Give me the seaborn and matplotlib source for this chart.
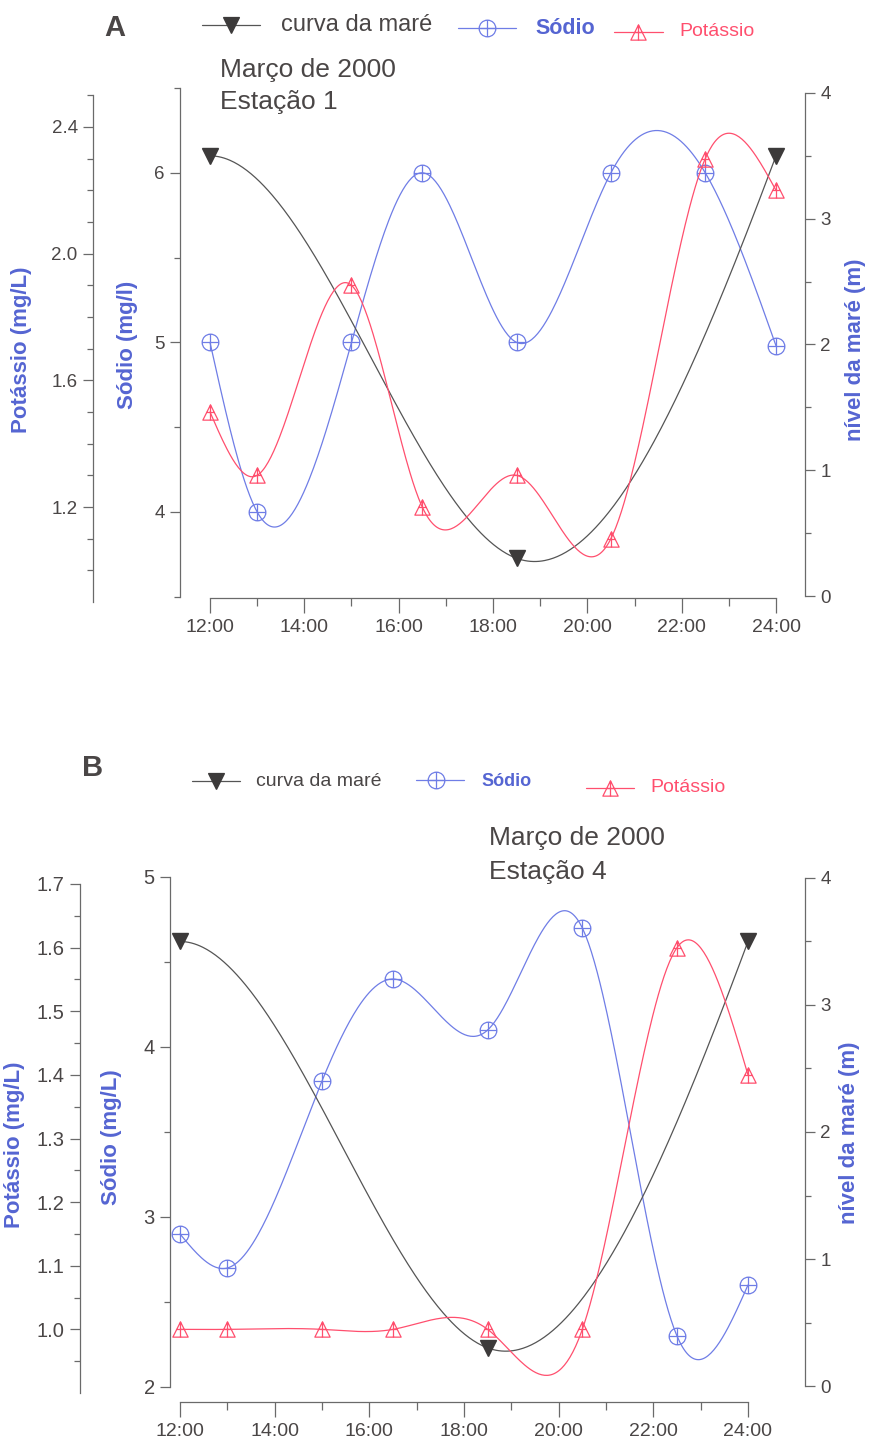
import numpy as np
import pandas as pd
import matplotlib
matplotlib.use("Agg")
import matplotlib.pyplot as plt
import seaborn as sns
from matplotlib.lines import Line2D
from matplotlib.path import Path
from matplotlib.ticker import FixedLocator, FuncFormatter

sns.set_theme(style="ticks")
plt.rcParams["font.family"] = ["Liberation Sans", "DejaVu Sans"]

# ---------------- data ----------------
hours = [12, 13, 15, 16.5, 18.5, 20.5, 22.5, 24]
tide_hours = [12, 18.5, 24]

tide_A = [3.5, 0.3, 3.5]
sodio_A = [5.0, 4.0, 5.0, 6.0, 5.0, 6.0, 6.0, 4.98]
potassio_A = [1.5, 1.3, 1.9, 1.2, 1.3, 1.1, 2.3, 2.2]

tide_B = [3.5, 0.3, 3.5]
sodio_B = [2.9, 2.7, 3.8, 4.4, 4.1, 4.7, 2.3, 2.6]
potassio_B = [1.0, 1.0, 1.0, 1.0, 1.0, 1.0, 1.6, 1.4]

x_ticks = [12, 14, 16, 18, 20, 22, 24]
x_minor = [13, 15, 17, 19, 21, 23]
x_tick_labels = ["12:00", "14:00", "16:00", "18:00", "20:00", "22:00", "24:00"]

# ---------------- styling ----------------
W, H = 874, 1446
C_BLUE_LINE = "#6f7de6"
C_BLUE_TXT = "#5565d2"
C_RED = "#ff4f6e"
C_TIDE = "#555555"
C_TIDE_MK = "#3c3a3a"
C_AX = "#6a6a6a"
C_TXT = "#4a4646"

circle_plus = Path.make_compound_path(
    Path.unit_circle(),
    Path([(-1, 0), (1, 0)], [Path.MOVETO, Path.LINETO]),
    Path([(0, -1), (0, 1)], [Path.MOVETO, Path.LINETO]),
)
tri_cross = Path(
    [(0, 1), (-1, -1), (1, -1), (0, 1), (0, 1), (0, -1), (-0.5, 0), (0.5, 0)],
    [Path.MOVETO, Path.LINETO, Path.LINETO, Path.CLOSEPOLY,
     Path.MOVETO, Path.LINETO, Path.MOVETO, Path.LINETO],
)


def cubic_spline(x, y, n=400, slopes=None):
    """Cubic spline through the points; natural ends, or clamped end slopes."""
    x = np.asarray(x, float)
    y = np.asarray(y, float)
    m = len(x)
    h = np.diff(x)
    A = np.zeros((m, m))
    b = np.zeros(m)
    if slopes is None:
        A[0, 0] = 1
        A[-1, -1] = 1
    else:
        s0, s1 = slopes
        A[0, 0], A[0, 1] = 2 * h[0], h[0]
        b[0] = 6 * ((y[1] - y[0]) / h[0] - s0)
        A[-1, -2], A[-1, -1] = h[-1], 2 * h[-1]
        b[-1] = 6 * (s1 - (y[-1] - y[-2]) / h[-1])
    for i in range(1, m - 1):
        A[i, i - 1] = h[i - 1]
        A[i, i] = 2 * (h[i - 1] + h[i])
        A[i, i + 1] = h[i]
        b[i] = 6 * ((y[i + 1] - y[i]) / h[i] - (y[i] - y[i - 1]) / h[i - 1])
    M = np.linalg.solve(A, b)
    xs = np.linspace(x[0], x[-1], n)
    idx = np.clip(np.searchsorted(x, xs) - 1, 0, m - 2)
    x0, x1 = x[idx], x[idx + 1]
    hh = x1 - x0
    t0 = x1 - xs
    t1 = xs - x0
    ys = (M[idx] * t0 ** 3 / (6 * hh) + M[idx + 1] * t1 ** 3 / (6 * hh)
          + (y[idx] / hh - M[idx] * hh / 6) * t0
          + (y[idx + 1] / hh - M[idx + 1] * hh / 6) * t1)
    return xs, ys


def fxp(px):
    return px / W


def fyp(py):
    return 1 - py / H


def style_spine_axis(a, side, lsize):
    for s in ["top", "bottom", "left", "right"]:
        a.spines[s].set_visible(False)
    a.spines[side].set_visible(True)
    a.spines[side].set_color(C_AX)
    a.spines[side].set_linewidth(0.9)
    a.tick_params(axis="y", which="both", color=C_AX, labelcolor=C_TXT,
                  labelsize=lsize, direction="out", width=0.9)
    a.tick_params(axis="y", which="major", length=7, pad=4)
    a.tick_params(axis="y", which="minor", length=4)
    a.grid(False)


def make_panel(box, xlim, sod_lim, sod_bounds, sod_major, sod_minor,
               tide_lim, pot_lim, pot_bounds, pot_major, pot_minor,
               pot_out_px, x_out_px, ylab_size, sod, pot, tide):
    left, top, right, bottom = box
    ax = fig.add_axes([fxp(left), fyp(bottom), fxp(right - left), (bottom - top) / H])
    ax.patch.set_alpha(0)
    axT = ax.twinx()
    axK = ax.twinx()
    axK.yaxis.tick_left()

    # sodium axis (main, left)
    style_spine_axis(ax, "left", ylab_size)
    ax.spines["bottom"].set_visible(True)
    ax.spines["bottom"].set_color(C_AX)
    ax.spines["bottom"].set_linewidth(0.9)
    ax.spines["bottom"].set_position(("outward", x_out_px * 0.72))
    ax.spines["bottom"].set_bounds(12, 24)
    ax.set_ylim(*sod_lim)
    ax.spines["left"].set_bounds(*sod_bounds)
    ax.yaxis.set_major_locator(FixedLocator(sod_major))
    ax.yaxis.set_minor_locator(FixedLocator(sod_minor))
    ax.yaxis.set_major_formatter(FuncFormatter(lambda v, p: f"{v:g}"))
    ax.xaxis.set_major_locator(FixedLocator(x_ticks))
    ax.xaxis.set_major_formatter(FuncFormatter(
        lambda v, p: x_tick_labels[x_ticks.index(int(round(v)))]))
    ax.xaxis.set_minor_locator(FixedLocator(x_minor))
    ax.tick_params(axis="x", which="both", color=C_AX, labelcolor=C_TXT,
                   labelsize=14, direction="out", width=0.9)
    ax.tick_params(axis="x", which="major", length=11, pad=4)
    ax.tick_params(axis="x", which="minor", length=6)

    # tide axis (right)
    style_spine_axis(axT, "right", 13.5)
    axT.set_ylim(*tide_lim)
    axT.spines["right"].set_bounds(0, 4)
    axT.yaxis.set_major_locator(FixedLocator([0, 1, 2, 3, 4]))
    axT.yaxis.set_minor_locator(FixedLocator([0.5, 1.5, 2.5, 3.5]))
    axT.yaxis.set_major_formatter(FuncFormatter(lambda v, p: f"{v:g}"))

    # potassium axis (offset left)
    style_spine_axis(axK, "left", ylab_size)
    axK.spines["left"].set_position(("outward", pot_out_px * 0.72))
    axK.set_ylim(*pot_lim)
    axK.spines["left"].set_bounds(*pot_bounds)
    axK.yaxis.set_major_locator(FixedLocator(pot_major))
    axK.yaxis.set_minor_locator(FixedLocator(pot_minor))
    axK.yaxis.set_major_formatter(FuncFormatter(lambda v, p: f"{v:.1f}"))

    # curves
    xs, ys = cubic_spline(hours, sod)
    sns.lineplot(x=xs, y=ys, ax=ax, color=C_BLUE_LINE, lw=0.9, sort=False,
                 estimator=None, legend=False)
    ax.plot(hours, sod, linestyle="none", marker=circle_plus, ms=12,
            mfc="none", mec=C_BLUE_LINE, mew=0.9)

    xs, ys = cubic_spline(hours, pot)
    sns.lineplot(x=xs, y=ys, ax=axK, color=C_RED, lw=0.9, sort=False,
                 estimator=None, legend=False)
    axK.plot(hours, pot, linestyle="none", marker=tri_cross, ms=11,
             mfc="none", mec=C_RED, mew=0.9)

    xs, ys = cubic_spline(tide_hours, tide, slopes=(0.0, 1.0))
    sns.lineplot(x=xs, y=ys, ax=axT, color=C_TIDE, lw=0.9, sort=False,
                 estimator=None, legend=False)
    axT.plot(tide_hours, tide, linestyle="none", marker="v", ms=11,
             mfc=C_TIDE_MK, mec=C_TIDE_MK)
    for a in (ax, axT, axK):
        a.set_xlim(*xlim)
        a.set_xlabel("")
        a.set_ylabel("")
    return ax


def legend_item(x0, x1, xm, y, marker, color, ms, filled, mcolor=None):
    mcolor = mcolor or color
    fig.add_artist(Line2D([fxp(x0), fxp(x1)], [fyp(y), fyp(y)],
                          transform=fig.transFigure, color=color, lw=0.9))
    fig.add_artist(Line2D([fxp(xm)], [fyp(y)], transform=fig.transFigure,
                          linestyle="none", marker=marker, ms=ms,
                          mfc=mcolor if filled else "none", mec=mcolor, mew=0.9))


def ftext(x, y, s, **kw):
    fig.text(fxp(x), fyp(y), s, **kw)


fig = plt.figure(figsize=(W / 100, H / 100), dpi=100)

# ---------------- Panel A ----------------
make_panel(box=(180, 88, 805, 598),
           xlim=(12 - 30 / 47.17, 24 + 29 / 47.17),
           sod_lim=(4 - 86 / 169.5, 6.5), sod_bounds=(3.5, 6.5),
           sod_major=[4, 5, 6], sod_minor=[3.5, 4.5, 5.5, 6.5],
           tide_lim=(-2 / 126.75, 4 + 5 / 126.75),
           pot_lim=(1.2 - 91 / 316.7, 2.4 + 39 / 316.7), pot_bounds=(0.9, 2.5),
           pot_major=[1.2, 1.6, 2.0, 2.4],
           pot_minor=[0.9, 1.0, 1.1, 1.3, 1.4, 1.5, 1.7, 1.8, 1.9, 2.1, 2.2, 2.3, 2.5],
           pot_out_px=87, x_out_px=0, ylab_size=13.5,
           sod=sodio_A, pot=potassio_A, tide=tide_A)

ftext(115, 28, "A", fontsize=21, fontweight="bold", color=C_TXT, ha="center", va="center")
legend_item(202, 260, 231, 25, "v", C_TIDE, 11, True, C_TIDE_MK)
ftext(281, 25, "curva da maré", fontsize=17, color=C_TXT, va="center")
legend_item(458, 516, 487, 28, circle_plus, C_BLUE_LINE, 12, False)
ftext(535, 29, "Sódio", fontsize=15.5, fontweight="bold", color=C_BLUE_TXT, va="center")
legend_item(614, 663, 638, 32, tri_cross, C_RED, 11, False)
ftext(679, 32, "Potássio", fontsize=14, color=C_RED, va="center")
ftext(220, 70, "Março de 2000", fontsize=19, color=C_TXT, va="center")
ftext(220, 102, "Estação 1", fontsize=19, color=C_TXT, va="center")
ftext(22, 350, "Potássio (mg/L)", fontsize=16, fontweight="bold", color=C_BLUE_TXT,
      rotation=90, ha="center", va="center")
ftext(128, 345, "Sódio (mg/l)", fontsize=16, fontweight="bold", color=C_BLUE_TXT,
      rotation=90, ha="center", va="center")
ftext(856, 350, "nível da maré (m)", fontsize=16, fontweight="bold", color=C_BLUE_TXT,
      rotation=90, ha="center", va="center")

# ---------------- Panel B ----------------
make_panel(box=(170, 877, 805, 1387),
           xlim=(12 - 10 / 47.33, 24 + 57 / 47.33),
           sod_lim=(2, 5), sod_bounds=(2, 5),
           sod_major=[2, 3, 4, 5], sod_minor=[2.5, 3.5, 4.5],
           tide_lim=(-1 / 127.5, 4 + 1 / 127.5),
           pot_lim=(0.9 + 6 / 636.25, 1.7 + 7 / 636.25), pot_bounds=(0.9, 1.7),
           pot_major=[0.9, 1.0, 1.1, 1.2, 1.3, 1.4, 1.5, 1.6, 1.7],
           pot_minor=[0.95, 1.05, 1.15, 1.25, 1.35, 1.45, 1.55, 1.65],
           pot_out_px=90, x_out_px=15, ylab_size=14.5,
           sod=sodio_B, pot=potassio_B, tide=tide_B)

ftext(93, 768, "B", fontsize=21, fontweight="bold", color=C_TXT, ha="center", va="center")
legend_item(192, 240, 216, 781, "v", C_TIDE, 11, True, C_TIDE_MK)
ftext(256, 782, "curva da maré", fontsize=14, color=C_TXT, va="center")
legend_item(416, 464, 436, 780, circle_plus, C_BLUE_LINE, 12, False)
ftext(481, 781, "Sódio", fontsize=13, fontweight="bold", color=C_BLUE_TXT, va="center")
legend_item(586, 634, 610, 788, tri_cross, C_RED, 11, False)
ftext(650, 788, "Potássio", fontsize=14, color=C_RED, va="center")
ftext(489, 838, "Março de 2000", fontsize=19, color=C_TXT, va="center")
ftext(489, 872, "Estação 4", fontsize=19, color=C_TXT, va="center")
ftext(15, 1145, "Potássio (mg/L)", fontsize=16, fontweight="bold", color=C_BLUE_TXT,
      rotation=90, ha="center", va="center")
ftext(112, 1137, "Sódio (mg/L)", fontsize=16, fontweight="bold", color=C_BLUE_TXT,
      rotation=90, ha="center", va="center")
ftext(849, 1133, "nível da maré (m)", fontsize=16, fontweight="bold", color=C_BLUE_TXT,
      rotation=90, ha="center", va="center")

fig.savefig("out.png", dpi=100, facecolor="white")
